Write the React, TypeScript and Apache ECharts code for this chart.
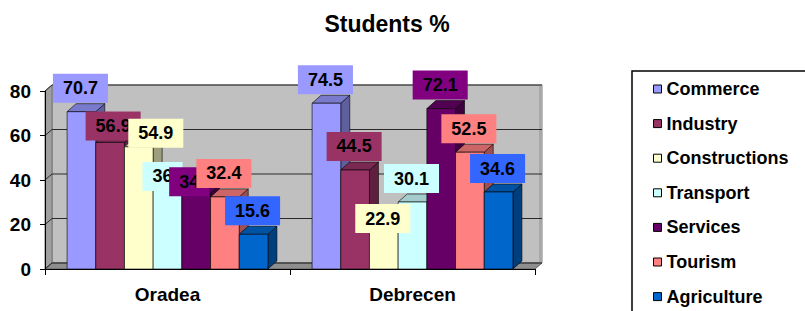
import React, { useEffect, useRef } from "react";
import * as echarts from "echarts";

const categories = ["Oradea", "Debrecen"];
const seriesNames = ["Commerce", "Industry", "Constructions", "Transport", "Services", "Tourism", "Agriculture"];
const commerce = [70.7, 74.5];
const industry = [56.9, 44.5];
const constructions = [54.9, 22.9];
const transport = [36, 30.1];
const services = [34, 72.1];
const tourism = [32.4, 52.5];
const agriculture = [15.6, 34.6];
const seriesValues = [commerce, industry, constructions, transport, services, tourism, agriculture];
const yTicks = [0, 20, 40, 60, 80];

// styles
const barColors = ["#9999FF", "#993366", "#FFFFCC", "#CCFFFF", "#660066", "#FF8080", "#0066CC"];
const labelColors = ["#9999FF", "#993366", "#FFFFCC", "#CCFFFF", "#800080", "#FF8080", "#3366FF"];
// manual label nudges (pixels), keyed "series|category"
const labelNudge: Record<string, [number, number]> = {
  "1|0": [4, 7],
  "2|0": [18, 10],
  "3|0": [-4, 11],
  "4|0": [-6, 12],
  "2|1": [0, 24],
};
const FONT = '"Liberation Sans", Arial, sans-serif';

function shade(hex: string, f: number) {
  const n = parseInt(hex.slice(1), 16);
  const r = Math.round(((n >> 16) & 255) * f);
  const g = Math.round(((n >> 8) & 255) * f);
  const b = Math.round((n & 255) * f);
  return `rgb(${r},${g},${b})`;
}

const WALL_D: [number, number] = [7, -6];
const BAR_D: [number, number] = [9, -8];
const BAR_FRAC = 0.1171;

export default function App() {
  const ref = useRef<HTMLDivElement>(null);
  useEffect(() => {
    document.body.style.margin = "0";
    const chart = echarts.init(ref.current!, null, { renderer: "svg" });
    const yMax = yTicks[yTicks.length - 1];

    const backdrop = {
      type: "custom",
      name: "backdrop",
      z: 1,
      silent: true,
      data: [[0, 0]],
      renderItem: (params: any, api: any) => {
        const bw = api.size([1, 0])[0];
        const leftX = api.coord([0, 0])[0] - bw / 2;
        const rightX = api.coord([categories.length - 1, 0])[0] + bw / 2;
        const yB = api.coord([0, 0])[1];
        const yT = api.coord([0, yMax])[1];
        const [dx, dy] = WALL_D;
        const children: any[] = [
          {
            type: "rect",
            shape: { x: leftX + dx, y: yT + dy, width: rightX - leftX, height: yB - yT },
            style: { fill: "#C0C0C0", stroke: "#808080", lineWidth: 1 },
          },
          {
            type: "rect",
            shape: { x: rightX + dx - 3, y: yT + dy, width: 3, height: yB - yT },
            style: { fill: "#A8A8A8" },
          },
          {
            type: "polygon",
            shape: { points: [[leftX, yB], [leftX, yT], [leftX + dx, yT + dy], [leftX + dx, yB + dy]] },
            style: { fill: "#A0A0A0", stroke: "#707070", lineWidth: 1 },
          },
          {
            type: "polygon",
            shape: { points: [[leftX, yB], [rightX, yB], [rightX + dx, yB + dy], [leftX + dx, yB + dy]] },
            style: { fill: "#8E8E8E", stroke: "#606060", lineWidth: 1 },
          },
        ];
        yTicks.forEach((t) => {
          const y = api.coord([0, t])[1];
          children.push({
            type: "polyline",
            shape: { points: [[leftX, y], [leftX + dx, y + dy], [rightX + dx, y + dy]] },
            style: { stroke: "#2a2a2a", lineWidth: 1, fill: null },
          });
        });
        return { type: "group", children };
      },
    };

    const barSeries = seriesNames.map((name, i) => ({
      type: "custom",
      name,
      z: 2,
      itemStyle: { color: barColors[i] },
      data: categories.map((c, j) => [j, seriesValues[i][j]]),
      encode: { x: 0, y: 1 },
      renderItem: (params: any, api: any) => {
        const j = api.value(0);
        const v = api.value(1);
        const bw = api.size([1, 0])[0];
        const barW = bw * BAR_FRAC;
        const top = api.coord([j, v]);
        const yB = api.coord([j, 0])[1];
        const xc = top[0] + (i - (seriesNames.length - 1) / 2) * barW;
        const x0 = xc - barW / 2;
        const yt = top[1];
        const [dx, dy] = BAR_D;
        const col = barColors[i];
        const edge = { stroke: "rgba(0,0,0,0.75)", lineWidth: 0.8 };
        const nudge = labelNudge[`${i}|${j}`] || [0, 0];
        return {
          type: "group",
          children: [
            {
              type: "polygon",
              z2: 1,
              shape: { points: [[x0 + barW, yt], [x0 + barW + dx, yt + dy], [x0 + barW + dx, yB + dy], [x0 + barW, yB]] },
              style: { fill: shade(col, 0.62), ...edge },
            },
            {
              type: "polygon",
              z2: 1,
              shape: { points: [[x0, yt], [x0 + barW, yt], [x0 + barW + dx, yt + dy], [x0 + dx, yt + dy]] },
              style: { fill: shade(col, 0.8), ...edge },
            },
            {
              type: "rect",
              z2: 2,
              shape: { x: x0, y: yt, width: barW, height: yB - yt },
              style: { fill: col, ...edge },
            },
            {
              type: "text",
              z2: 100 + i,
              x: xc - 1 + nudge[0],
              y: yt - 23.5 + nudge[1],
              style: {
                text: String(v),
                fill: "#000",
                font: `bold 18px ${FONT}`,
                align: "center",
                verticalAlign: "middle",
                backgroundColor: labelColors[i],
                padding: [6, 10, 5, 10],
              },
            },
          ],
        };
      },
    }));

    chart.setOption({
      animation: false,
      title: {
        text: "Students %",
        left: 382,
        top: 7,
        textAlign: "center",
        textStyle: { fontFamily: FONT, fontWeight: "bold", fontSize: 23, color: "#000" },
      },
      legend: {
        data: seriesNames,
        orient: "vertical",
        left: 653,
        top: 79,
        padding: 0,
        itemWidth: 8,
        itemHeight: 8,
        itemGap: 14.6,
        icon: "rect",
        itemStyle: { borderColor: "#000", borderWidth: 1 },
        textStyle: { fontFamily: FONT, fontWeight: "bold", fontSize: 18, lineHeight: 20, color: "#000" },
      },
      graphic: [
        {
          type: "rect",
          shape: { x: 632, y: 71, width: 220, height: 270 },
          style: { fill: "#fff", stroke: "#000", lineWidth: 1.5 },
          z: -1,
          silent: true,
        },
      ],
      grid: { left: 45, right: 270, top: 91, bottom: 42 },
      xAxis: {
        type: "category",
        data: categories,
        axisLine: { lineStyle: { color: "#000", width: 1 } },
        axisTick: { show: true, length: 6, lineStyle: { color: "#000" } },
        axisLabel: { fontFamily: FONT, fontWeight: "bold", fontSize: 19, color: "#000", margin: 16 },
        z: 5,
      },
      yAxis: {
        type: "value",
        min: 0,
        max: 80,
        interval: 20,
        axisLine: { show: true, lineStyle: { color: "#000" } },
        axisTick: { show: true, length: 5, lineStyle: { color: "#000" } },
        axisLabel: { fontFamily: FONT, fontWeight: "bold", fontSize: 19, color: "#000", margin: 14 },
        splitLine: { show: false },
        z: 5,
      },
      series: [backdrop, ...barSeries],
    });
    return () => chart.dispose();
  }, []);
  return <div ref={ref} style={{ width: 805, height: 311 }} />;
}
